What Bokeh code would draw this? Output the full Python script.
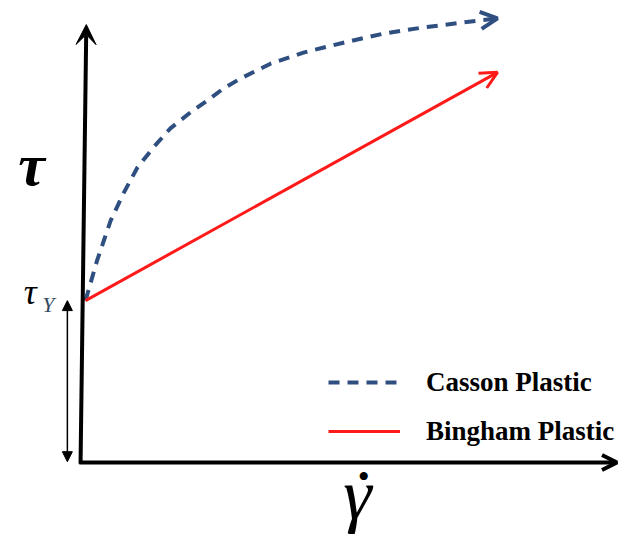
from bokeh.plotting import figure
from bokeh.models import Range1d, Arrow, OpenHead, VeeHead, NormalHead, Label, Legend, LegendItem
from bokeh.embed import file_html
from bokeh.resources import INLINE

# ---- data (schematic units) ----
series_names = ["Casson Plastic", "Bingham Plastic"]
yield_stress = 3.93
shear_rate_casson = [0.0, 0.28, 0.61, 0.92, 1.26, 1.65, 2.06, 2.55, 2.96, 3.35, 3.76,
                     4.49, 5.29, 6.26, 7.23, 8.20, 9.17, 10.0]
stress_casson = [3.93, 4.90, 5.87, 6.53, 7.16, 7.65, 8.11, 8.50, 8.79, 9.08, 9.32,
                 9.68, 9.95, 10.19, 10.41, 10.56, 10.68, 10.78]
shear_rate_bingham = [0.0, 10.0]
stress_bingham = [3.93, 9.47]

CASSON_COLOR = "#2e4f7f"
BINGHAM_COLOR = "#ff1a1a"

p = figure(width=620, height=537, output_backend="svg", toolbar_location=None,
           x_axis_type=None, y_axis_type=None, min_border=0,
           x_range=Range1d(-2.063, 12.985), y_range=Range1d(-1.820, 11.214))
p.outline_line_color = None
p.background_fill_color = "white"

# axes drawn as arrows
p.add_layout(Arrow(x_start=-0.12, y_start=-0.03, x_end=0.02, y_end=10.63,
                   line_color="black", line_width=4,
                   end=VeeHead(size=20, fill_color="black", line_color="black", line_width=1)))
p.add_layout(Arrow(x_start=-0.15, y_start=0.0, x_end=12.90, y_end=0.0,
                   line_color="black", line_width=4,
                   end=OpenHead(size=15, line_color="black", line_width=4)))

# yield stress double arrow
p.add_layout(Arrow(x_start=-0.44, y_start=0.02, x_end=-0.44, y_end=yield_stress,
                   line_color="black", line_width=1.5,
                   start=NormalHead(size=10, fill_color="black", line_color="black", line_width=1),
                   end=NormalHead(size=10, fill_color="black", line_color="black", line_width=1)))

r_casson = p.line(shear_rate_casson, stress_casson, line_color=CASSON_COLOR, line_width=4,
                  line_dash="11 8")
r_bingham = p.line(shear_rate_bingham, stress_bingham, line_color=BINGHAM_COLOR, line_width=3)

p.add_layout(Arrow(x_start=shear_rate_casson[-2], y_start=stress_casson[-2],
                   x_end=shear_rate_casson[-1], y_end=stress_casson[-1], line_alpha=0,
                   end=OpenHead(size=17, line_color=CASSON_COLOR, line_width=4)))
p.add_layout(Arrow(x_start=shear_rate_bingham[-2], y_start=stress_bingham[-2],
                   x_end=shear_rate_bingham[-1], y_end=stress_bingham[-1], line_alpha=0,
                   end=OpenHead(size=17, line_color=BINGHAM_COLOR, line_width=3)))

# labels
serif = "Liberation Serif"
p.add_layout(Label(x=-1.31, y=7.23, text="τ", text_font=serif, text_font_style="bold italic",
                   text_font_size="60px", text_align="center", text_baseline="alphabetic",
                   text_color="black"))
p.add_layout(Label(x=-1.50, y=4.14, text="τ", text_font=serif, text_font_style="italic",
                   text_font_size="36px", text_align="left", text_baseline="alphabetic",
                   text_color="black"))
p.add_layout(Label(x=-1.05, y=3.84, text="Y", text_font=serif, text_font_style="italic",
                   text_font_size="22px", text_align="left", text_baseline="alphabetic",
                   text_color="#34495e"))
p.add_layout(Label(x=6.60, y=-0.78, text="γ", text_font=serif, text_font_style="italic",
                   text_font_size="72px", text_align="center", text_baseline="alphabetic",
                   text_color="black"))
p.add_layout(Label(x=6.75, y=-0.34, text="•", text_font=serif,
                   text_font_size="34px", text_align="center", text_baseline="middle",
                   text_color="black"))

legend = Legend(items=[LegendItem(label=series_names[0], renderers=[r_casson]),
                       LegendItem(label=series_names[1], renderers=[r_bingham])],
                location=(328, 86), orientation="vertical",
                glyph_width=72, glyph_height=40, label_height=40, label_standoff=26,
                spacing=9, padding=0, margin=0,
                label_text_font=serif, label_text_font_style="bold",
                label_text_font_size="27px", label_text_color="black",
                border_line_alpha=0, background_fill_alpha=0)
p.add_layout(legend)

open("out.html", "w").write(file_html(p, INLINE))
